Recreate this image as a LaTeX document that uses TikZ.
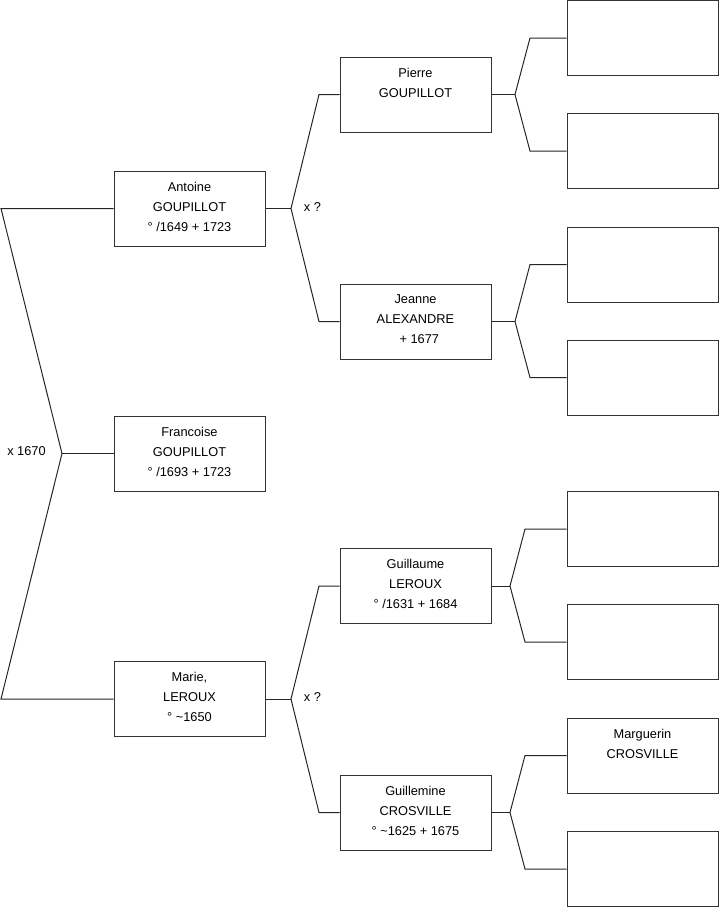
\documentclass[tikz,border=0pt]{standalone}
\usepackage{fontspec}
\setmainfont{Liberation Sans}
\begin{document}
\begin{tikzpicture}[x=0.75pt,y=-0.75pt,
  pbox/.style={draw=black!80, line width=0.75pt, minimum width=113.25pt, minimum height=56.25pt, inner sep=0pt},
  ptext/.style={anchor=north, align=center, inner sep=0pt, font=\fontsize{9.6pt}{15pt}\selectfont},
  conn/.style={draw=black!85, line width=0.75pt},
  lbl/.style={font=\fontsize{9.6pt}{11pt}\selectfont, inner sep=0pt}]
\useasboundingbox (0,0) rectangle (719,908);
% generation 1
\node[pbox] (antoine) at (189.5,208.5) {};
\node[pbox] (francoise) at (189.5,453.5) {};
\node[pbox] (marie) at (189.5,699) {};
% generation 2
\node[pbox] (pierre) at (415.5,94.5) {};
\node[pbox] (jeanne) at (415.5,321.5) {};
\node[pbox] (guillaume) at (415.5,586) {};
\node[pbox] (guillemine) at (415.5,812.5) {};
% generation 3
\node[pbox] (r1) at (642.5,38) {};
\node[pbox] (r2) at (642.5,151) {};
\node[pbox] (r3) at (642.5,264.5) {};
\node[pbox] (r4) at (642.5,377.5) {};
\node[pbox] (r5) at (642.5,529) {};
\node[pbox] (r6) at (642.5,642) {};
\node[pbox] (r7) at (642.5,755.5) {};
\node[pbox] (r8) at (642.5,869) {};
% texts
\node[ptext] (antoine-t) at ([yshift=-8.3pt]antoine.north) {Antoine\\GOUPILLOT\\° /1649 + 1723};
\node[ptext] (francoise-t) at ([yshift=-8.3pt]francoise.north) {Francoise\\GOUPILLOT\\° /1693 + 1723};
\node[ptext] (marie-t) at ([yshift=-8.3pt]marie.north) {Marie,\\LEROUX\\° \textasciitilde 1650};
\node[ptext] (pierre-t) at ([yshift=-8.3pt]pierre.north) {Pierre\\GOUPILLOT};
\node[ptext] (jeanne-t) at ([yshift=-8.3pt]jeanne.north) {Jeanne\\ALEXANDRE\\\hspace*{0.6em}+ 1677};
\node[ptext] (guillaume-t) at ([yshift=-8.3pt]guillaume.north) {Guillaume\\LEROUX\\° /1631 + 1684};
\node[ptext] (guillemine-t) at ([yshift=-8.3pt]guillemine.north) {Guillemine\\CROSVILLE\\° \textasciitilde 1625 + 1675};
\node[ptext] (r7-t) at ([yshift=-8.3pt]r7.north) {Marguerin\\CROSVILLE};
% left fork
\coordinate (v0) at (62,453.5);
\coordinate (la) at (1,208.5);
\coordinate (lb) at (1,699);
\draw[conn] (antoine.west) -- (la) -- (v0) -- (lb) -- (marie.west);
\draw[conn] (v0) -- (francoise.west);
\node[lbl] (m0) at (26.5,451.5) {x 1670};
% antoine fork
\coordinate (v1) at (291,208.5);
\coordinate (p1) at (319,94.5);
\coordinate (p2) at (319,321.5);
\draw[conn] (antoine.east) -- (v1);
\draw[conn] (pierre.west) -- (p1) -- (v1) -- (p2) -- (jeanne.west);
\node[lbl] (m1) at (312.5,207.5) {x ?};
% marie fork
\coordinate (v2) at (291,699);
\coordinate (p3) at (319,586);
\coordinate (p4) at (319,812.5);
\draw[conn] (marie.east) -- (v2);
\draw[conn] (guillaume.west) -- (p3) -- (v2) -- (p4) -- (guillemine.west);
\node[lbl] (m2) at (312.5,697.5) {x ?};
% pierre fork
\coordinate (v3) at (515,94.5);
\draw[conn] (pierre.east) -- (v3);
\draw[conn] (r1.west) -- (530,38) -- (v3) -- (530,151) -- (r2.west);
% jeanne fork
\coordinate (v4) at (515,321.5);
\draw[conn] (jeanne.east) -- (v4);
\draw[conn] (r3.west) -- (530,264.5) -- (v4) -- (530,377.5) -- (r4.west);
% guillaume fork
\coordinate (v5) at (510,586);
\draw[conn] (guillaume.east) -- (v5);
\draw[conn] (r5.west) -- (525,529) -- (v5) -- (525,642) -- (r6.west);
% guillemine fork
\coordinate (v6) at (510,812.5);
\draw[conn] (guillemine.east) -- (v6);
\draw[conn] (r7.west) -- (525,755.5) -- (v6) -- (525,869) -- (r8.west);
\end{tikzpicture}
\end{document}
